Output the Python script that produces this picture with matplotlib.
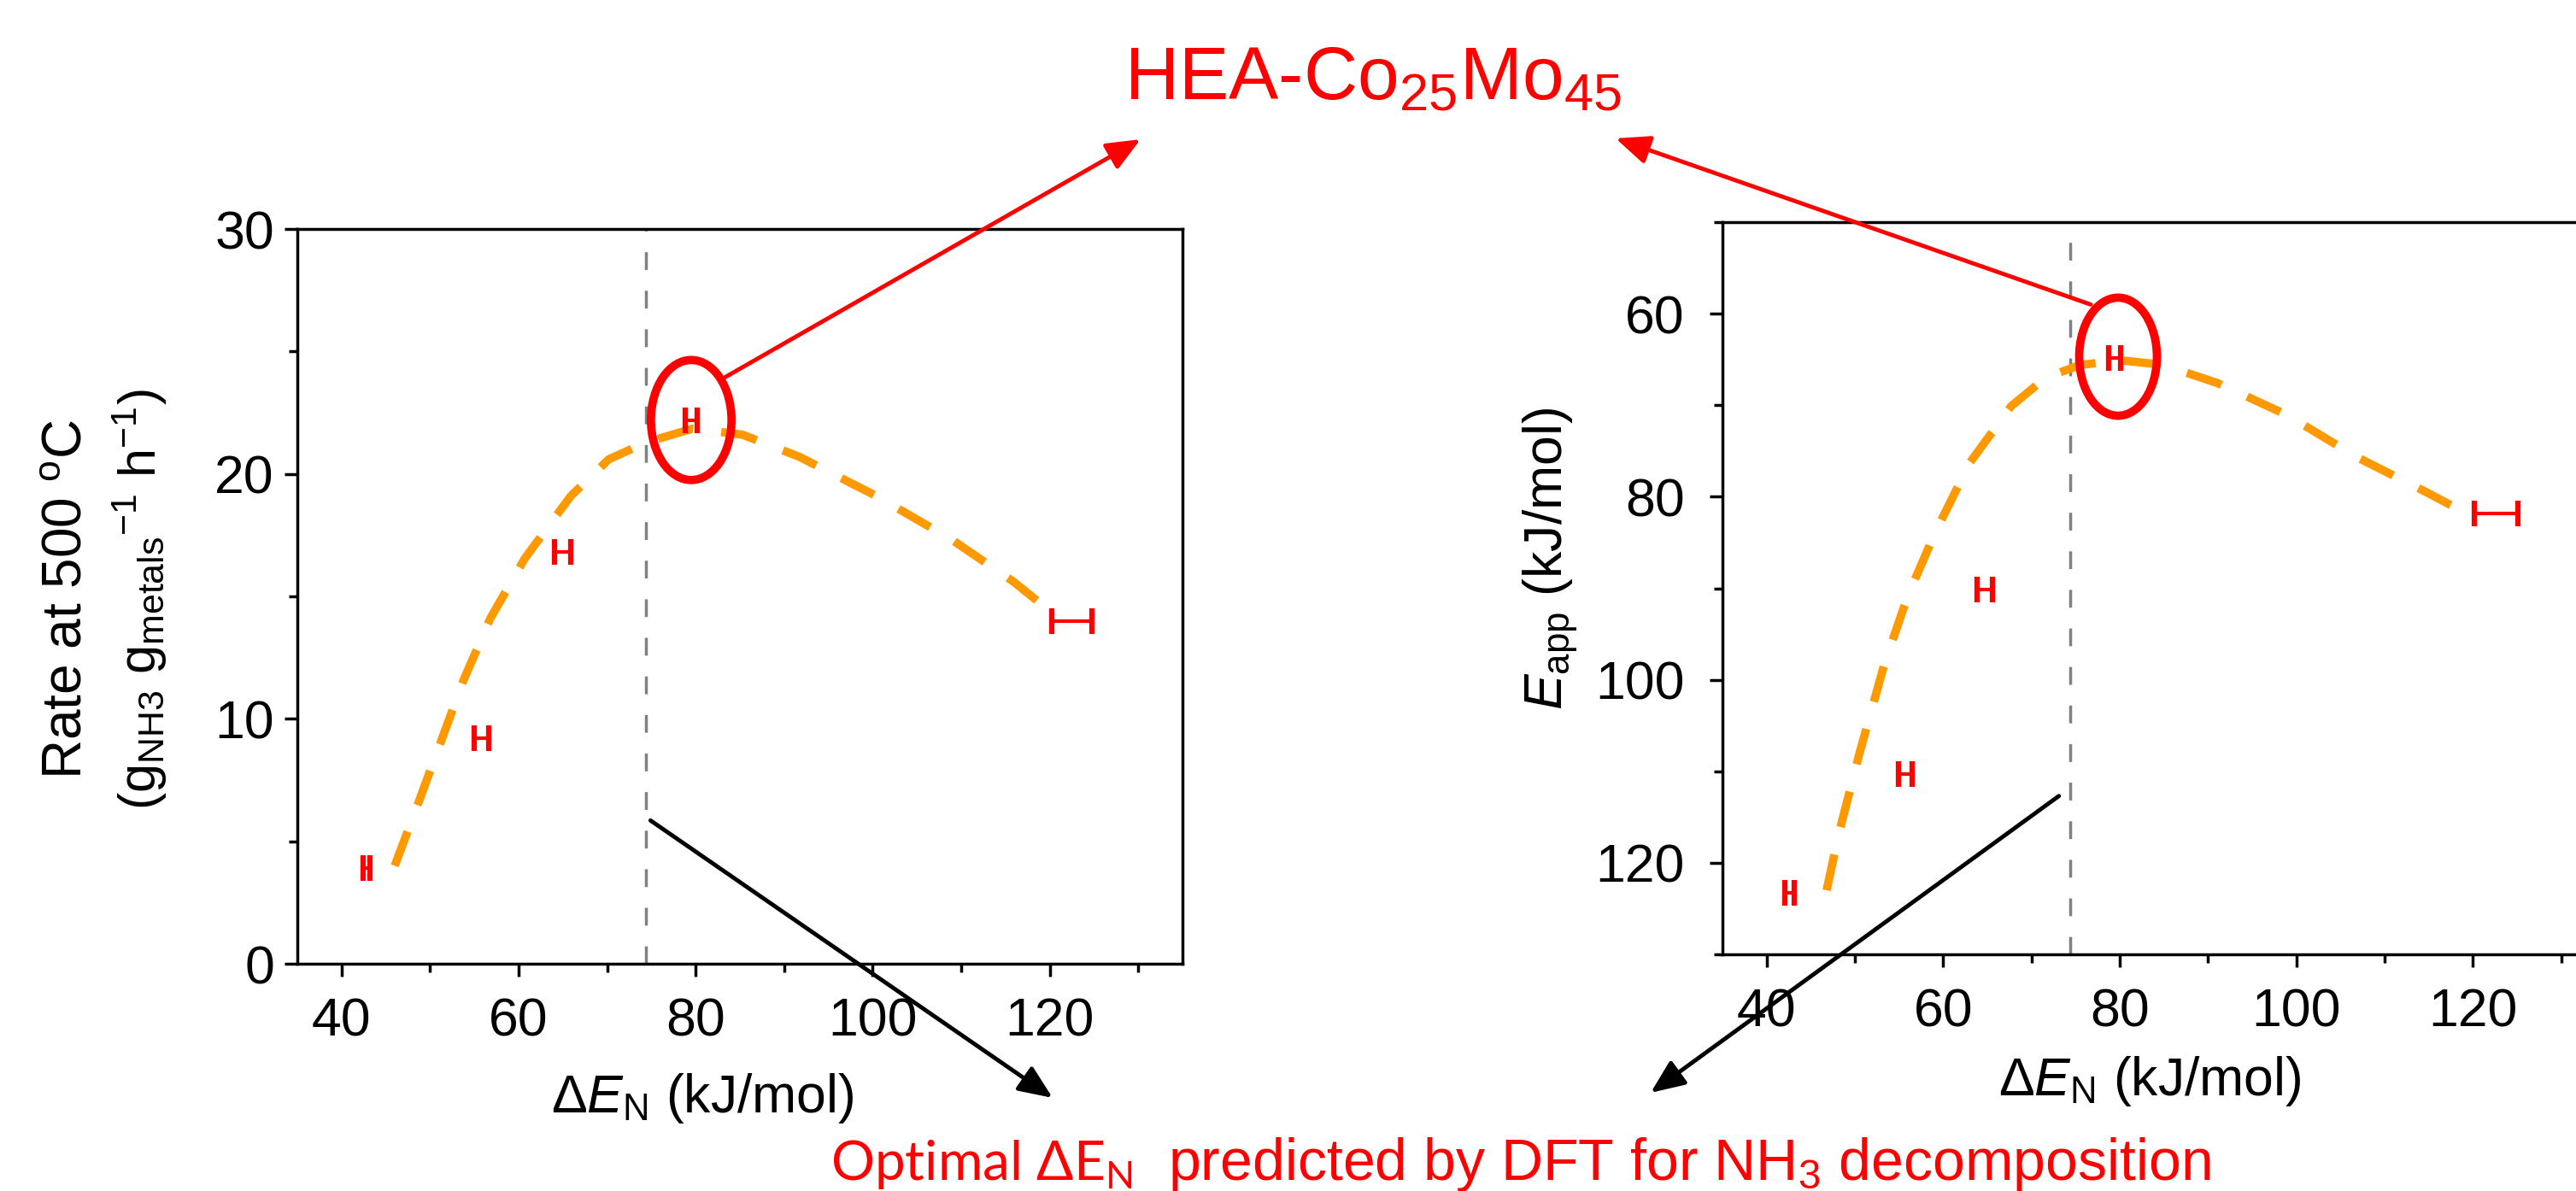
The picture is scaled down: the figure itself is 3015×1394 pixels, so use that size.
import matplotlib.pyplot as plt
from matplotlib.patches import Ellipse
from matplotlib.ticker import MultipleLocator

plt.rcParams["font.family"] = ["Liberation Sans", "DejaVu Sans"]
plt.rcParams["mathtext.fontset"] = "custom"
plt.rcParams["mathtext.rm"] = "Liberation Sans"
plt.rcParams["mathtext.it"] = "Liberation Sans:italic"
plt.rcParams["mathtext.bf"] = "Liberation Sans:bold"

# Measured points: rate at 500 C vs nitrogen binding energy
rate_x = [42.8, 55.8, 65.0, 79.5, 122.5]
rate_y = [3.9, 9.2, 16.8, 22.2, 14.0]
rate_xerr = [0.4, 0.8, 0.9, 0.7, 2.3]

# Measured points: apparent activation energy vs nitrogen binding energy
eapp_x = [42.6, 55.7, 64.7, 79.4, 122.6]
eapp_y = [123.3, 110.3, 90.1, 64.8, 81.8]
eapp_xerr = [0.5, 0.8, 0.9, 0.7, 2.5]

# Volcano guide curves
rate_curve_x = [46.0, 48.6, 51.2, 53.8, 56.8, 60.7, 65.9, 70.2, 74.5, 79.7,
                85.3, 91.7, 100.4, 109.0, 115.9, 120.2]
rate_curve_y = [4.0, 6.5, 9.05, 11.6, 14.1, 16.55, 19.1, 20.6, 21.3, 21.85,
                21.6, 20.7, 19.1, 17.3, 15.6, 14.35]
eapp_curve_x = [46.8, 48.1, 50.5, 53.3, 56.0, 59.1, 63.0, 67.7, 71.6, 75.5,
                80.2, 84.9, 91.1, 99.0, 106.7, 114.5, 120.0]
eapp_curve_y = [123.0, 117.1, 108.1, 98.4, 90.8, 83.9, 76.3, 70.1, 67.0, 65.6,
                65.1, 65.6, 67.6, 71.1, 75.6, 79.4, 82.2]

optimal_dE = 74.4
x_ticks = [40, 60, 80, 100, 120]

W, H = 3015, 1394


def fx(px):
    return px / W


def fy(py):
    return 1 - py / H


def style_axes(ax, ylim, ymajor, yminor, ypad):
    ax.set_xlim(35, 135)
    ax.set_ylim(*ylim)
    ax.set_xticks(x_ticks)
    ax.xaxis.set_minor_locator(MultipleLocator(10))
    ax.yaxis.set_major_locator(MultipleLocator(ymajor))
    ax.yaxis.set_minor_locator(MultipleLocator(yminor))
    ax.tick_params(which="both", direction="out", top=False, right=False, width=2.5)
    ax.tick_params(which="major", length=11, labelsize=45)
    ax.tick_params(which="minor", length=7)
    ax.tick_params(axis="x", which="major", pad=17)
    ax.tick_params(axis="y", which="major", pad=ypad)
    for s in ax.spines.values():
        s.set_linewidth(2.5)


def draw_panel(ax, cx, cy, px, py, pxerr):
    ax.axvline(optimal_dE, color="#808080", lw=2.5, dashes=(6, 7), zorder=1)
    ax.plot(cx, cy, color="#FF9900", lw=7, dashes=(4.4, 3.4), zorder=2)
    ax.errorbar(px, py, xerr=pxerr, fmt="none", ecolor="red", elinewidth=3,
                capsize=11, capthick=4.5, zorder=4)


def arrow(ax, start, tip, color):
    ax.annotate("", xy=(fx(tip[0]), fy(tip[1])), xycoords="figure fraction",
                xytext=start, textcoords="data", annotation_clip=False,
                arrowprops=dict(arrowstyle="-|>,head_length=0.4,head_width=0.17",
                                color=color, lw=3.5, mutation_scale=60,
                                shrinkA=0, shrinkB=0))


fig = plt.figure(figsize=(30.15, 13.94), dpi=100)

# Left panel: rate
ax1 = fig.add_axes([fx(348), fy(1128), fx(1384) - fx(348), fy(268) - fy(1128)])
style_axes(ax1, (0, 30), 10, 5, 8.5)
draw_panel(ax1, rate_curve_x, rate_curve_y, rate_x, rate_y, rate_xerr)
ax1.add_patch(Ellipse((79.5, 22.2), 9.1, 4.9, fill=False, ec="red", lw=7, zorder=5))

# Right panel: apparent activation energy (inverted axis)
ax2 = fig.add_axes([fx(2016), fy(1117), fx(3049.5) - fx(2016), fy(260) - fy(1117)])
style_axes(ax2, (130, 50), 20, 10, 21)
draw_panel(ax2, eapp_curve_x, eapp_curve_y, eapp_x, eapp_y, eapp_xerr)
ax2.add_patch(Ellipse((79.8, 64.7), 8.8, 12.9, fill=False, ec="red", lw=7, zorder=5))

# Arrows to the title and to the bottom note
arrow(ax1, (83.1, 23.9), (1335, 163), "red")
arrow(ax2, (76.7, 59.0), (1891, 162), "red")
arrow(ax1, (74.9, 5.85), (1232, 1285), "black")
arrow(ax2, (73.1, 112.7), (1932, 1279), "black")

# Axis labels
fig.text(fx(96), fy(702), "Rate at 500 ${}^\\mathregular{o}$C", rotation=90,
         rotation_mode="anchor", ha="center", va="baseline", fontsize=46)
fig.text(fx(183), fy(702),
         "(g$_\\mathregular{NH3}$ g$_\\mathregular{metals}{}^\\mathregular{-1}$ h$^\\mathregular{-1}$)",
         rotation=90, rotation_mode="anchor", ha="center", va="baseline", fontsize=44)
fig.text(fx(1828), fy(654), "$\\mathit{E}_\\mathregular{app}$ (kJ/mol)", rotation=90,
         rotation_mode="anchor", ha="center", va="baseline", fontsize=45)
fig.text(fx(822), fy(1302), "Δ$\\mathit{E}_\\mathregular{N}$ (kJ/mol)",
         ha="center", va="baseline", fontsize=45)
fig.text(fx(2516), fy(1282), "Δ$\\mathit{E}_\\mathregular{N}$ (kJ/mol)",
         ha="center", va="baseline", fontsize=45)

# Title and bottom note
fig.text(fx(1316), fy(117), "HEA-Co$_\\mathregular{25}$Mo$_\\mathregular{45}$",
         color="red", fontsize=63, ha="left", va="baseline")
fig.text(fx(972), fy(1381), "Optimal ΔE$_\\mathregular{N}$", family=["Lato", "DejaVu Sans"],
         color="red", fontsize=46, ha="left", va="baseline")
fig.text(fx(1367), fy(1381), "predicted by DFT for NH$_\\mathregular{3}$ decomposition",
         color="red", fontsize=49, ha="left", va="baseline")

fig.savefig("out.png", dpi=100)
